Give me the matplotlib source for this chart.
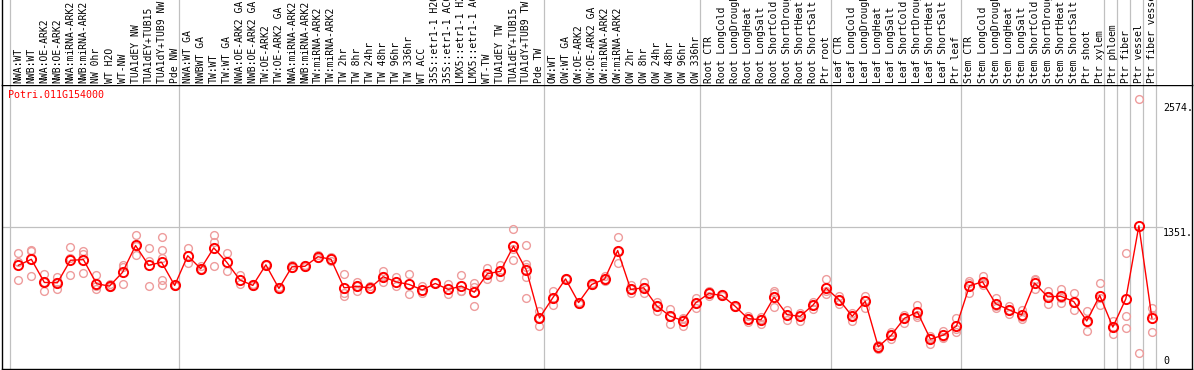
import matplotlib
matplotlib.use('Agg')
import matplotlib.pyplot as plt
from matplotlib.transforms import blended_transform_factory
import numpy as np

GENE = 'Potri.011G154000'

# sample groups (labels) and replicate expression values
nw_labels = ['NWA:WT', 'NWB:WT', 'NWA:OE-ARK2', 'NWB:OE-ARK2',
             'NWA:miRNA-ARK2', 'NWB:miRNA-ARK2', 'NW 0hr', 'WT H2O', 'WT-NW',
             'TUA1dEY NW', 'TUA1dEY+TUB15', 'TUA1dY+TUB9 NW', 'Pde NW']
nw_values = [[1102, 1015, 843], [1130, 1121, 881], [900, 824, 747],
             [872, 824, 766], [1159, 1054, 891], [1121, 1092, 910],
             [891, 786, 757], [805, 786, 776], [987, 968, 805],
             [1274, 1169, 1083], [1150, 1025, 786],
             [1255, 1130, 1054, 843, 795], [790, 800]]

tw_labels = ['NWA:WT GA', 'NWBWT GA', 'TW:WT', 'TW:WT GA', 'NWA:OE-ARK2 GA',
             'NWB:OE-ARK2 GA', 'TW:OE-ARK2', 'TW:OE-ARK2 GA', 'NWA:miRNA-ARK2',
             'NWB:miRNA-ARK2', 'TW:miRNA-ARK2', 'TW:miRNA-ARK2', 'TW 2hr',
             'TW 8hr', 'TW 24hr', 'TW 48hr', 'TW 96hr', 'TW 336hr', 'WT ACC',
             '35S::etr1-1 H2O', '35S::etr1-1 ACC', 'LMX5::etr1-1 H2O',
             'LMX5::etr1-1 ACC', 'WT-TW', 'TUA1dEY TW', 'TUA1dEY+TUB15',
             'TUA1dY+TUB9 TW', 'Pde TW']
tw_values = [[1150, 1006], [977, 948, 939], [1274, 1207, 977], [1102, 929],
             [891, 805], [805, 786], [996, 987], [776, 757], [987, 958],
             [987, 968], [1083, 1054], [1063, 1025], [900, 719, 699],
             [824, 786, 747], [786, 757], [929, 881, 824], [872, 786],
             [900, 709], [786, 719], [814], [805, 709], [891, 738, 738],
             [814, 776, 604], [958, 910, 853], [987, 929, 872],
             [1332, 1140, 1035], [1178, 996, 968, 872, 680], [556, 489, 412]]

ow_labels = ['OW:WT', 'OW:WT GA', 'OW:OE-ARK2', 'OW:OE-ARK2 GA',
             'OW:miRNA-ARK2', 'OW:miRNA-ARK2', 'OW 2hr', 'OW 8hr', 'OW 24hr',
             'OW 48hr', 'OW 96hr', 'OW 336hr']
ow_values = [[738, 671, 613], [862, 853], [642, 623], [814, 795],
             [881, 853, 833], [1255, 1121, 1006], [795, 757, 719],
             [824, 776, 719], [642, 604, 556], [575, 508, 431],
             [489, 479, 412], [680, 632, 584]]

root_labels = ['Root CTR', 'Root LongCold', 'Root LongDrought', 'Root LongHeat',
               'Root LongSalt', 'Root ShortCold', 'Root ShortDrought',
               'Root ShortHeat', 'Root ShortSalt', 'Ptr root']
root_values = [[738, 719, 699], [709, 690], [604, 594], [508, 479, 450],
               [498, 479, 431], [738, 719, 594], [565, 517, 469],
               [536, 508, 460], [642, 613, 575], [853, 747, 709]]

leaf_labels = ['Leaf CTR', 'Leaf LongCold', 'Leaf LongDrought', 'Leaf LongHeat',
               'Leaf LongSalt', 'Leaf ShortCold', 'Leaf ShortDrought',
               'Leaf ShortHeat', 'Leaf ShortSalt', 'Ptr leaf']
leaf_values = [[690, 661, 623], [536, 508, 460], [690, 661, 584],
               [230, 211, 192], [354, 326, 287], [517, 489, 441],
               [613, 517, 498], [316, 297, 240], [364, 307, 297],
               [489, 383, 354]]

stem_labels = ['Stem CTR', 'Stem LongCold', 'Stem LongDrought', 'Stem LongHeat',
               'Stem LongSalt', 'Stem ShortCold', 'Stem ShortDrought',
               'Stem ShortHeat', 'Stem ShortSalt', 'Ptr shoot', 'Ptr xylem']
stem_values = [[833, 814, 728], [881, 814, 795], [680, 604, 584],
               [604, 565, 527], [565, 498, 479], [853, 843, 757],
               [738, 699, 623], [766, 680, 632], [719, 642, 565],
               [556, 450, 364], [814, 671, 613]]

ptr_labels = ['Ptr phloem', 'Ptr fiber', 'Ptr vessel', 'Ptr fiber vessel']
ptr_values = [[460, 402, 335], [1102, 508, 393], [2574, 153], [584, 517, 354]]

group_sizes = [len(nw_labels), len(tw_labels), len(ow_labels),
               len(root_labels), len(leaf_labels), len(stem_labels), 1, 1, 1, 1]
labels = nw_labels + tw_labels + ow_labels + root_labels + leaf_labels \
    + stem_labels + ptr_labels
values = nw_values + tw_values + ow_values + root_values + leaf_values \
    + stem_values + ptr_values

W, H = 1194, 370
px = 1.0 / W
py = 1.0 / H
x = np.arange(len(labels))
means = np.array([np.mean(v) for v in values])
ymax = max(max(v) for v in values)
top = ymax * 1.05
half = top / 2

plt.rcParams['font.family'] = 'DejaVu Sans Mono'
fig = plt.figure(figsize=(W / 100, H / 100), dpi=100)

x0 = (1.5 - 18.3) / 13.03
x1 = (1192 - 18.3) / 13.03
ax = fig.add_axes([1.5 * px, 1 * py, (1192 - 1.5) * px, (369 - 85) * py])
lab = fig.add_axes([1.5 * px, (H - 85) * py, (1192 - 1.5) * px, 85 * py],
                   sharex=ax)
for a in (ax, lab):
    a.set_xlim(x0, x1)
    a.set_xticks([])
    a.set_yticks([])
    for side in a.spines.values():
        side.set_linewidth(1.0)
        side.set_color('black')
lab.set_ylim(0, 1)
lab.spines['bottom'].set_visible(False)
lab.spines['top'].set_visible(False)
ax.set_ylim(0, top)

# group separators run through the label strip as well
bounds = [-0.6] + list(np.cumsum(group_sizes) - 1 + 0.35)
for a in (ax, lab):
    for b in bounds:
        a.axvline(b, color='#c0c0c0', linewidth=0.9, zorder=1)
ax.hlines(half, x0, (1163 - 18.3) / 13.03, color='#c0c0c0', linewidth=0.9,
          zorder=1)

for i, reps in enumerate(values):
    ax.plot([i] * len(reps), reps, 'o', ms=5.6, mfc='none', mec='#ee9c9c',
            mew=1.0, zorder=2)
ax.plot(x, means, '-', color='#ff0000', linewidth=1.0, zorder=3)
ax.plot(x, means, 'o', ms=6.6, mfc='none', mec='#ff0000', mew=1.4, zorder=4)

tr = blended_transform_factory(lab.transData, lab.transAxes)
for i, name in enumerate(labels):
    lab.text(i, 2.0 / 85, name, rotation=90, ha='center', va='bottom',
             fontsize=7, color='black', transform=tr)

ax.text(8 * px, (H - 90) * py, GENE, transform=fig.transFigure,
        color='#ff0000', fontsize=7.2, ha='left', va='top')

xt = (1163 - 18.3) / 13.03
ax.annotate('%d.' % ymax, (xt, ymax), xytext=(0, -3),
            textcoords='offset points', ha='left', va='top', fontsize=7.2,
            annotation_clip=False)
ax.annotate('%d.' % int(half), (xt, half), xytext=(0, -1),
            textcoords='offset points', ha='left', va='top', fontsize=7.2,
            annotation_clip=False)
ax.annotate('0', (xt, 0), xytext=(0, 2), textcoords='offset points',
            ha='left', va='bottom', fontsize=7.2, annotation_clip=False)

fig.savefig('out.png', dpi=100)
